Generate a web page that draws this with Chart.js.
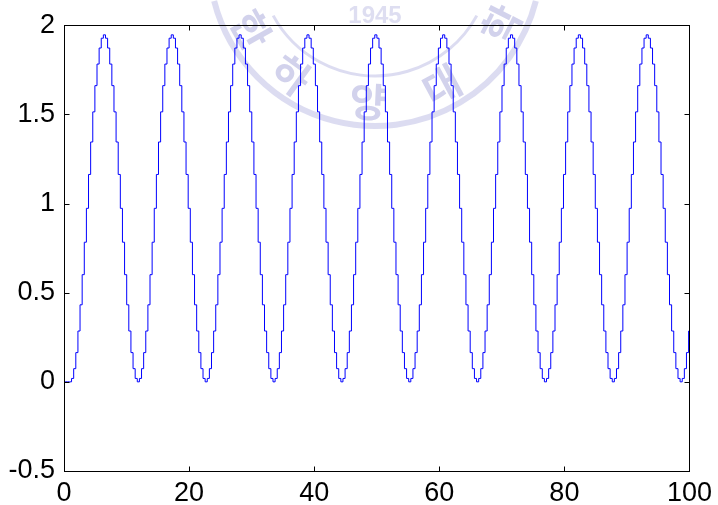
<!DOCTYPE html>
<html>
<head>
<meta charset="utf-8">
<script src="https://cdn.jsdelivr.net/npm/chart.js@4/dist/chart.umd.min.js"></script>
<style>
    body { margin: 0; background: #fff; }
    #wrap { width: 718px; height: 505px; position: relative; }
</style>
</head>
<body>
<div id="wrap"><canvas id="plot"></canvas></div>
<script>
// ─── Data ──────────────────────────────────────────────────
// held samples of the signal (one sample every sampleStep)
const sampleStart = -0.147;
const sampleStep = 0.339;
const signal = [
    0, 0, 0,
    0, 0.019, 0.074, 0.164, 0.285, 0.432, 0.601, 0.783, 0.973, 1.163, 1.345, 1.514, 1.661, 1.782, 1.872, 1.927,
    1.946, 1.927, 1.872, 1.782, 1.661, 1.514, 1.345, 1.163, 0.973, 0.783, 0.601, 0.432, 0.285, 0.164, 0.074, 0.019,
    0, 0.019, 0.074, 0.164, 0.285, 0.432, 0.601, 0.783, 0.973, 1.163, 1.345, 1.514, 1.661, 1.782, 1.872, 1.927,
    1.946, 1.927, 1.872, 1.782, 1.661, 1.514, 1.345, 1.163, 0.973, 0.783, 0.601, 0.432, 0.285, 0.164, 0.074, 0.019,
    0, 0.019, 0.074, 0.164, 0.285, 0.432, 0.601, 0.783, 0.973, 1.163, 1.345, 1.514, 1.661, 1.782, 1.872, 1.927,
    1.946, 1.927, 1.872, 1.782, 1.661, 1.514, 1.345, 1.163, 0.973, 0.783, 0.601, 0.432, 0.285, 0.164, 0.074, 0.019,
    0, 0.019, 0.074, 0.164, 0.285, 0.432, 0.601, 0.783, 0.973, 1.163, 1.345, 1.514, 1.661, 1.782, 1.872, 1.927,
    1.946, 1.927, 1.872, 1.782, 1.661, 1.514, 1.345, 1.163, 0.973, 0.783, 0.601, 0.432, 0.285, 0.164, 0.074, 0.019,
    0, 0.019, 0.074, 0.164, 0.285, 0.432, 0.601, 0.783, 0.973, 1.163, 1.345, 1.514, 1.661, 1.782, 1.872, 1.927,
    1.946, 1.927, 1.872, 1.782, 1.661, 1.514, 1.345, 1.163, 0.973, 0.783, 0.601, 0.432, 0.285, 0.164, 0.074, 0.019,
    0, 0.019, 0.074, 0.164, 0.285, 0.432, 0.601, 0.783, 0.973, 1.163, 1.345, 1.514, 1.661, 1.782, 1.872, 1.927,
    1.946, 1.927, 1.872, 1.782, 1.661, 1.514, 1.345, 1.163, 0.973, 0.783, 0.601, 0.432, 0.285, 0.164, 0.074, 0.019,
    0, 0.019, 0.074, 0.164, 0.285, 0.432, 0.601, 0.783, 0.973, 1.163, 1.345, 1.514, 1.661, 1.782, 1.872, 1.927,
    1.946, 1.927, 1.872, 1.782, 1.661, 1.514, 1.345, 1.163, 0.973, 0.783, 0.601, 0.432, 0.285, 0.164, 0.074, 0.019,
    0, 0.019, 0.074, 0.164, 0.285, 0.432, 0.601, 0.783, 0.973, 1.163, 1.345, 1.514, 1.661, 1.782, 1.872, 1.927,
    1.946, 1.927, 1.872, 1.782, 1.661, 1.514, 1.345, 1.163, 0.973, 0.783, 0.601, 0.432, 0.285, 0.164, 0.074, 0.019,
    0, 0.019, 0.074, 0.164, 0.285, 0.432, 0.601, 0.783, 0.973, 1.163, 1.345, 1.514, 1.661, 1.782, 1.872, 1.927,
    1.946, 1.927, 1.872, 1.782, 1.661, 1.514, 1.345, 1.163, 0.973, 0.783, 0.601, 0.432, 0.285, 0.164, 0.074, 0.019,
    0, 0.019, 0.074, 0.164, 0.285, 0.432
];
const xTickValues = [0, 20, 40, 60, 80, 100];
const yTickValues = [-0.5, 0, 0.5, 1, 1.5, 2];
const sealChars = ['한', '하', '양', '대', '학'];

const FONT = { family: "'Liberation Sans', Arial, sans-serif", size: 27 };

// ─── Faint seal watermark behind the plot ─────────────────
const sealPlugin = {
    id: 'seal',
    beforeDatasetsDraw(chart) {
        const ctx = chart.ctx;
        const cx = 375, cy = -40;
        ctx.save();
        ctx.strokeStyle = 'rgba(185, 185, 228, 0.5)';
        ctx.lineWidth = 6;
        ctx.beginPath(); ctx.arc(cx, cy, 166, 0.25, Math.PI - 0.25); ctx.stroke();
        ctx.lineWidth = 3;
        ctx.beginPath(); ctx.arc(cx, cy, 116, 0.5, Math.PI - 0.5); ctx.stroke();
        ctx.fillStyle = 'rgba(165, 165, 218, 0.5)';
        ctx.font = "bold 40px 'Noto Sans CJK KR'";
        ctx.textAlign = 'center';
        ctx.textBaseline = 'middle';
        const angles = [2.63, 2.2, 1.62, 1.08, 0.47];
        sealChars.forEach((c, i) => {
            const a = angles[i];
            ctx.save();
            ctx.translate(cx + 142 * Math.cos(a), cy + 142 * Math.sin(a));
            ctx.rotate(a - Math.PI / 2);
            ctx.fillText(c, 0, 0);
            ctx.restore();
        });
        ctx.fillStyle = 'rgba(190, 190, 228, 0.5)';
        ctx.font = "bold 24px 'Liberation Sans', Arial";
        ctx.fillText('1945', cx, 16);
        ctx.restore();
    }
};

// ─── Box with inward ticks (MATLAB style) ─────────────────
const boxPlugin = {
    id: 'box',
    afterDraw(chart) {
        const { ctx, chartArea: a, scales } = chart;
        const L = Math.round(a.left) + 0.5, R = Math.round(a.right) + 0.5;
        const T = Math.round(a.top) + 0.5, B = Math.round(a.bottom) + 0.5;
        const len = 5;
        ctx.save();
        ctx.strokeStyle = '#000';
        ctx.lineWidth = 1;
        ctx.strokeRect(L, T, R - L, B - T);
        ctx.beginPath();
        xTickValues.forEach(v => {
            const px = Math.round(scales.x.getPixelForValue(v)) + 0.5;
            ctx.moveTo(px, B); ctx.lineTo(px, B - len);
            ctx.moveTo(px, T); ctx.lineTo(px, T + len);
        });
        yTickValues.forEach(v => {
            const py = Math.round(scales.y.getPixelForValue(v)) + 0.5;
            ctx.moveTo(L, py); ctx.lineTo(L + len, py);
            ctx.moveTo(R, py); ctx.lineTo(R - len, py);
        });
        ctx.stroke();
        ctx.restore();
    }
};

const points = signal.map((v, i) => ({ x: sampleStart + i * sampleStep, y: v }));

new Chart(document.getElementById('plot'), {
    type: 'line',
    data: {
        datasets: [{
            data: points,
            borderColor: '#0000ff',
            borderWidth: 1,
            pointRadius: 0,
            stepped: true,
            fill: false
        }]
    },
    options: {
        responsive: true,
        maintainAspectRatio: false,
        animation: false,
        layout: { padding: { top: 19, right: 28, left: 0, bottom: 0 } },
        plugins: {
            legend: { display: false },
            tooltip: { enabled: false }
        },
        scales: {
            x: {
                type: 'linear',
                min: 0,
                max: 100,
                afterBuildTicks: s => { s.ticks = xTickValues.map(v => ({ value: v })); },
                afterFit: s => { s.height = 34; },
                grid: { display: false, drawTicks: false },
                border: { display: false },
                ticks: { color: '#000', font: FONT, padding: 6, maxRotation: 0, callback: v => String(v) }
            },
            y: {
                min: -0.5,
                max: 2,
                afterBuildTicks: s => { s.ticks = yTickValues.map(v => ({ value: v })); },
                afterFit: s => { s.width = 64; },
                grid: { display: false, drawTicks: false },
                border: { display: false },
                ticks: { color: '#000', font: FONT, padding: 9, callback: v => String(v) }
            }
        }
    },
    plugins: [sealPlugin, boxPlugin]
});
</script>
</body>
</html>
